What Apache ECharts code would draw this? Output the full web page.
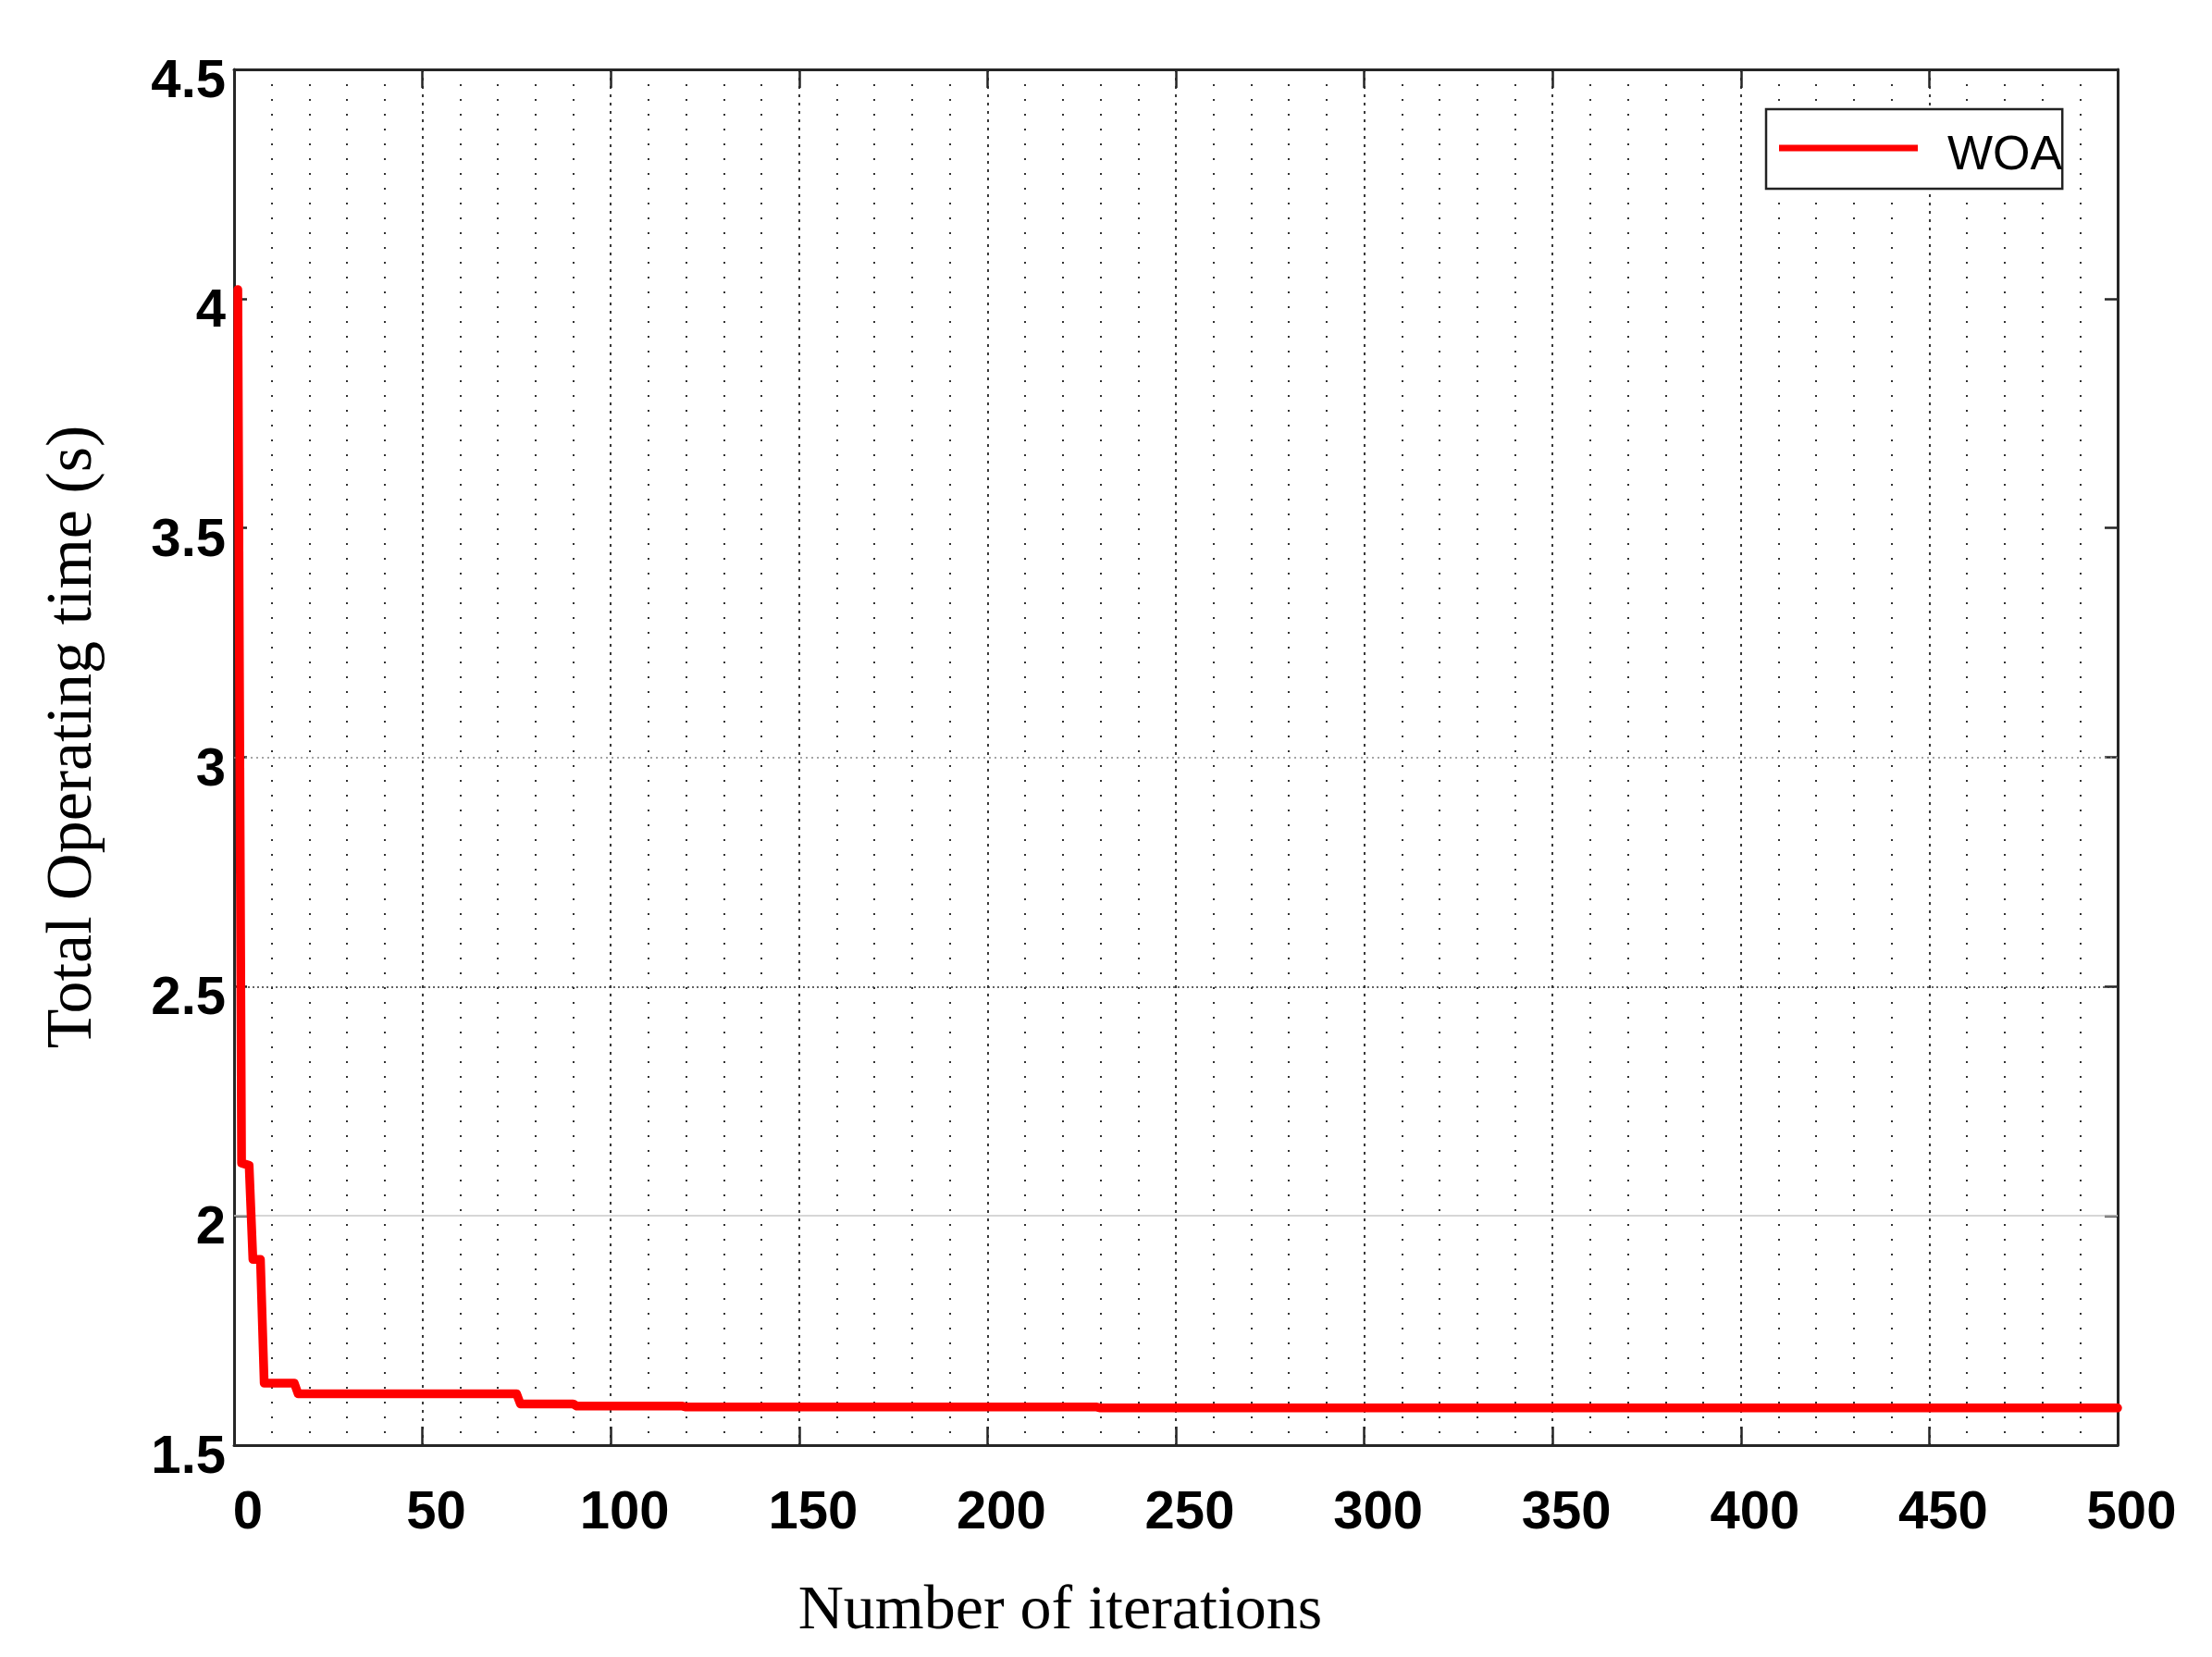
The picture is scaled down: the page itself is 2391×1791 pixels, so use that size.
<!DOCTYPE html>
<html>
<head>
<meta charset="utf-8">
<script src="https://cdn.jsdelivr.net/npm/echarts@6/dist/echarts.min.js"></script>
<style>
html,body{margin:0;padding:0;background:#fff;}
#chart{width:2391px;height:1791px;}
</style>
</head>
<body>
<div id="chart"></div>
<script>
// ---- data ----
const iterations = [1, 2, 4, 5, 7, 8, 16, 17, 75, 76, 90, 91, 119, 120, 229, 230, 500];
const woaValues  = [4.02, 2.115, 2.11, 1.905, 1.905, 1.635, 1.635, 1.612, 1.612, 1.59, 1.59, 1.585, 1.585, 1.583, 1.583, 1.581, 1.581];
const seriesName = 'WOA';
const xTitle = 'Number of iterations';
const yTitle = 'Total Operating time (s)';
const hGridValues = [2, 2.5, 3];

const points = iterations.map((x, i) => [x, woaValues[i]]);

const chart = echarts.init(document.getElementById('chart'), null, {renderer: 'canvas'});
const axisColor = '#262626';
const labelFont = {fontFamily: '"Liberation Sans", Arial, sans-serif', fontWeight: 'bold', fontSize: 58, color: '#000'};
const hStyles = [
  {color: '#c8c8c8', width: 1.5, type: 'solid'},
  {color: '#333', width: 1.5, type: [2, 3]},
  {color: '#888', width: 1.5, type: [2, 4]}
];

chart.setOption({
  animation: false,
  backgroundColor: '#fff',
  grid: {left: 253, right: 102, top: 75, bottom: 229, containLabel: false},
  legend: {
    left: 1909, top: 118,
    orient: 'horizontal',
    data: [{name: seriesName, icon: 'path://M0,0L150,0L150,7L0,7Z M0,25L0.001,25L0.001,25.001Z'}],
    itemWidth: 150, itemHeight: 25,
    borderColor: '#222', borderWidth: 2.5,
    padding: [25, 0, 9, 14],
    backgroundColor: '#fff',
    textStyle: {fontFamily: '"Liberation Sans", Arial, sans-serif', fontSize: 52, color: '#000', padding: [0, 0, 0, 27]}
  },
  xAxis: [{
    type: 'value', min: 0, max: 500, interval: 50,
    name: xTitle, nameLocation: 'middle', nameGap: 146,
    nameTextStyle: {fontFamily: '"Liberation Serif", "Times New Roman", serif', fontSize: 68, color: '#000', padding: [0, 250, 0, 0]},
    axisLine: {show: true, onZero: false, lineStyle: {color: axisColor, width: 3}},
    axisTick: {show: true, inside: true, length: 20, lineStyle: {color: axisColor, width: 2.5}},
    axisLabel: Object.assign({margin: 45, padding: [0, 0, 0, 30]}, labelFont),
    splitLine: {show: true, lineStyle: {color: '#3a3a3a', width: 2, type: [3, 6]}},
    minorTick: {show: false, splitNumber: 5},
    minorSplitLine: {show: true, lineStyle: {color: '#333', width: 2, type: [2, 14]}}
  }, {
    type: 'value', min: 0, max: 500, interval: 50, position: 'top',
    axisLine: {show: true, onZero: false, lineStyle: {color: axisColor, width: 3}},
    axisTick: {show: true, inside: true, length: 20, lineStyle: {color: axisColor, width: 2.5}},
    axisLabel: {show: false}, splitLine: {show: false}
  }],
  yAxis: [{
    type: 'value', min: 1.5, max: 4.5, interval: 0.5,
    name: yTitle, nameLocation: 'middle', nameGap: 138, nameRotate: 90,
    nameTextStyle: {fontFamily: '"Liberation Serif", "Times New Roman", serif', fontSize: 70, color: '#000', padding: [0, 0, 0, 44]},
    axisLine: {show: true, onZero: false, lineStyle: {color: axisColor, width: 3}},
    axisTick: {show: true, inside: true, length: 14, lineStyle: {color: axisColor, width: 2.5}},
    axisLabel: Object.assign({margin: 9, verticalAlign: 'top', lineHeight: 28}, labelFont),
    splitLine: {show: false}
  }, {
    type: 'value', min: 1.5, max: 4.5, interval: 0.5, position: 'right',
    axisLine: {show: true, onZero: false, lineStyle: {color: axisColor, width: 3}},
    axisTick: {show: true, inside: true, length: 14, lineStyle: {color: axisColor, width: 2.5}},
    axisLabel: {show: false}, splitLine: {show: false}
  }],
  series: [{
    name: 'hgrid', type: 'line', data: [], silent: true, z: 1,
    markLine: {
      silent: true, symbol: 'none', label: {show: false}, animation: false,
      data: hGridValues.map((v, i) => ({yAxis: v, lineStyle: hStyles[i]}))
    }
  }, {
    name: seriesName, type: 'line', data: points, z: 5,
    showSymbol: false, symbol: 'none',
    lineStyle: {color: '#ff0000', width: 9.5, cap: 'round', join: 'round'},
    itemStyle: {color: '#ff0000'}
  }]
});
</script>
</body>
</html>
